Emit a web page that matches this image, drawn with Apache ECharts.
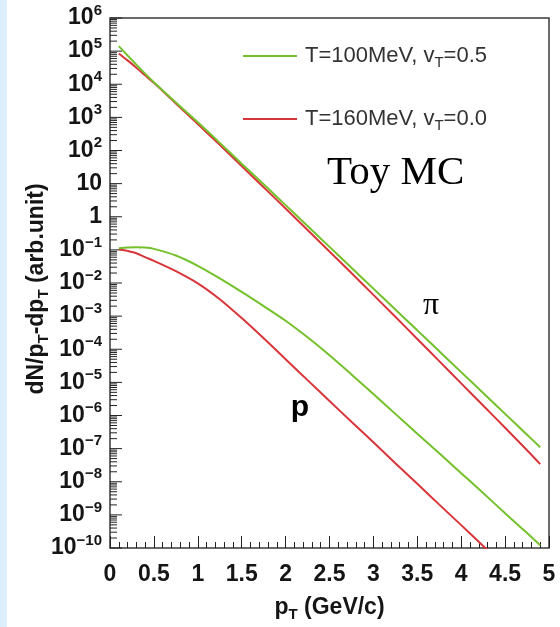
<!DOCTYPE html>
<html>
<head>
<meta charset="utf-8">
<script src="https://cdn.jsdelivr.net/npm/echarts@6.0.0/dist/echarts.min.js"></script>
<style>
html,body{margin:0;padding:0;background:#fff;}
#main{width:560px;height:627px;}
</style>
</head>
<body>
<div id="main"></div>
<script>
// ---- data ----
const pT = [0.1, 0.2, 0.3, 0.4, 0.5, 0.75, 1.0, 1.25, 1.5, 1.75, 2.0, 2.25, 2.5, 2.75, 3.0, 3.25, 3.5, 3.75, 4.0, 4.25, 4.5, 4.75, 4.9];
// pion, T=100MeV, vT=0.5 (green)
const pionGreen = [1.41e5, 7.41e4, 3.89e4, 2.09e4, 1.15e4, 2.82e3, 708, 170, 39.8, 9.55, 2.24, 0.525, 0.123, 2.88e-2, 6.76e-3, 1.58e-3, 3.72e-4, 8.71e-5, 2.04e-5, 4.79e-6, 1.12e-6, 2.63e-7, 1.10e-7];
// pion, T=160MeV, vT=0.0 (red)
const pionRed = [8.51e4, 5.25e4, 3.16e4, 1.86e4, 1.10e4, 2.63e3, 631, 148, 33.9, 7.76, 1.78, 0.398, 8.91e-2, 2.00e-2, 4.37e-3, 9.55e-4, 2.04e-4, 4.37e-5, 9.33e-6, 2.00e-6, 4.27e-7, 8.91e-8, 3.39e-8];
// proton, T=100MeV, vT=0.5 (green)
const protonGreen = [0.112, 0.117, 0.120, 0.117, 0.107, 6.76e-2, 3.31e-2, 1.38e-2, 5.37e-3, 2.00e-3, 7.24e-4, 2.29e-4, 6.61e-5, 1.74e-5, 4.47e-6, 1.12e-6, 2.82e-7, 7.24e-8, 1.82e-8, 4.57e-9, 1.12e-9, 2.82e-10, 1.20e-10];
// proton, T=160MeV, vT=0.0 (red)
const pTRedProton = [0.1, 0.2, 0.3, 0.4, 0.5, 0.75, 1.0, 1.25, 1.5, 1.75, 2.0, 2.25, 2.5, 2.75, 3.0, 3.25, 3.5, 3.75, 4.0, 4.25, 4.35];
const protonRed = [0.105, 9.33e-2, 7.94e-2, 6.03e-2, 4.68e-2, 2.29e-2, 9.77e-3, 3.24e-3, 8.71e-4, 2.14e-4, 5.01e-5, 1.17e-5, 2.75e-6, 6.46e-7, 1.55e-7, 3.63e-8, 8.71e-9, 2.04e-9, 4.90e-10, 1.15e-10, 6.46e-11];

const legendGreen = 'T=100MeV, vT=0.5';
const legendRed = 'T=160MeV, vT=0.0';
const xTitle = 'p{sub|T} (GeV/c)';
const yTitle = 'dN/p{sub|T}-dp{sub|T} (arb.unit)';
const annotations = ['Toy MC', 'π', 'p'];

const yMin = 1e-10, yMax = 1e6;
// tick positions for the log axis: decades (major) and 2..9 x 10^k (minor)
const yMajorTicks = [];
const yMinorTicks = [];
for (let e = -10; e <= 6; e++) yMajorTicks.push([0, Math.pow(10, e)]);
for (let e = -10; e < 6; e++) {
  for (let m = 2; m <= 9; m++) yMinorTicks.push([0, m * Math.pow(10, e)]);
}

const GREEN = '#74c12c';
const RED = '#d8363a';
const FONT = 'Liberation Sans';

function pairs(xs, ys) { return xs.map((x, i) => [x, ys[i]]); }

const chart = echarts.init(document.getElementById('main'), null, {renderer: 'canvas'});

function supLabel(v) {
  const e = Math.round(Math.log10(v));
  if (e === 0) return '1';
  if (e === 1) return '10';
  return '10{sup|' + (e < 0 ? '\u2212' + (-e) : e) + '}';
}

function tickSeries(name, data, len) {
  return {
    type: 'custom', name: name, data: data, silent: true, z: 2,
    encode: {x: 0, y: 1},
    renderItem: function (params, api) {
      const p = api.coord([0, api.value(1)]);
      const left = params.coordSys.x;
      return {type: 'line', shape: {x1: left, y1: p[1], x2: left + len, y2: p[1]}, style: {stroke: '#222', lineWidth: 1}};
    }
  };
}

const lineBase = {type: 'line', showSymbol: false, symbol: 'none', smooth: 0.3, animation: false, z: 3};

chart.setOption({
  animation: false,
  backgroundColor: '#ffffff',
  grid: {left: 110, right: 11, top: 18, bottom: 79, show: true, borderColor: '#3a3a3a', borderWidth: 1.5, backgroundColor: '#ffffff'},
  xAxis: {
    type: 'value', min: 0, max: 5, interval: 0.5,
    axisLine: {show: false},
    splitLine: {show: false},
    axisTick: {show: true, inside: true, length: 12, lineStyle: {color: '#222', width: 1}},
    minorTick: {show: true, splitNumber: 5, length: 6, lineStyle: {color: '#222', width: 1}},
    axisLabel: {margin: 15, fontFamily: FONT, fontWeight: 'bold', fontSize: 23, color: '#151515'},
    name: xTitle, nameLocation: 'middle', nameGap: 46,
    nameTextStyle: {fontFamily: FONT, fontWeight: 'bold', fontSize: 23, color: '#151515', lineHeight: 28,
      rich: {sub: {fontFamily: FONT, fontWeight: 'bold', fontSize: 15, verticalAlign: 'bottom', lineHeight: 14, color: '#151515'}}}
  },
  yAxis: {
    type: 'log', logBase: 10, min: yMin, max: yMax, interval: 1, splitNumber: 16,
    axisLine: {show: false},
    splitLine: {show: false},
    axisTick: {show: false},
    axisLabel: {show: true, showMinLabel: true, showMaxLabel: true, margin: 8, fontFamily: FONT, fontWeight: 'bold', fontSize: 23, color: '#151515', formatter: supLabel,
      lineHeight: 30,
      rich: {sup: {fontFamily: FONT, fontWeight: 'bold', fontSize: 15, verticalAlign: 'top', lineHeight: 15, color: '#151515'}}},
    name: yTitle, nameLocation: 'middle', nameRotate: 90, nameGap: 59, nameMoveOverlap: false,
    nameTextStyle: {fontFamily: FONT, fontWeight: 'bold', fontSize: 23, color: '#151515', lineHeight: 28, padding: [0, 12, 0, 0],
      rich: {sub: {fontFamily: FONT, fontWeight: 'bold', fontSize: 15, verticalAlign: 'bottom', lineHeight: 14, color: '#151515'}}}
  },
  legend: {
    data: [legendGreen, legendRed],
    orient: 'vertical', left: 238, top: 37,
    icon: 'rect', itemWidth: 54, itemHeight: 2, itemGap: 35,
    formatter: n => n.replace('vT', 'v{sub|T}'),
    textStyle: {fontFamily: FONT, fontSize: 22, color: '#333', lineHeight: 28, padding: [0, 0, 0, 3],
      rich: {sub: {fontFamily: FONT, fontSize: 15, color: '#333', verticalAlign: 'bottom', lineHeight: 14}}},
    selectedMode: false
  },
  graphic: [
    {type: 'rect', left: 0, top: 0, shape: {width: 7, height: 627}, style: {fill: '#ddeffc'}, z: -10},
    {type: 'text', x: 327, y: 173, style: {text: annotations[0], fontFamily: 'Liberation Serif', fontSize: 41, fill: '#000', textVerticalAlign: 'middle', verticalAlign: 'middle'}, z: 10},
    {type: 'text', x: 431, y: 306, style: {text: annotations[1], fontFamily: 'Liberation Serif', fontSize: 32, fill: '#000', align: 'center', textAlign: 'center', verticalAlign: 'middle', textVerticalAlign: 'middle'}, z: 10},
    {type: 'text', x: 300, y: 408, style: {text: annotations[2], fontFamily: FONT, fontWeight: 'bold', fontSize: 30, fill: '#000', align: 'center', textAlign: 'center', verticalAlign: 'middle', textVerticalAlign: 'middle'}, z: 10}
  ],
  series: [
    Object.assign({}, lineBase, {name: legendRed, data: pairs(pT, pionRed), lineStyle: {color: RED, width: 2}, itemStyle: {color: RED}}),
    Object.assign({}, lineBase, {name: legendGreen, data: pairs(pT, pionGreen), lineStyle: {color: GREEN, width: 2}, itemStyle: {color: GREEN}}),
    Object.assign({}, lineBase, {name: legendRed, data: pairs(pTRedProton, protonRed), lineStyle: {color: RED, width: 2}, itemStyle: {color: RED}}),
    Object.assign({}, lineBase, {name: legendGreen, data: pairs(pT, protonGreen), lineStyle: {color: GREEN, width: 2}, itemStyle: {color: GREEN}}),
    tickSeries('yMajorTicks', yMajorTicks, 12),
    tickSeries('yMinorTicks', yMinorTicks, 7)
  ]
});
</script>
</body>
</html>
